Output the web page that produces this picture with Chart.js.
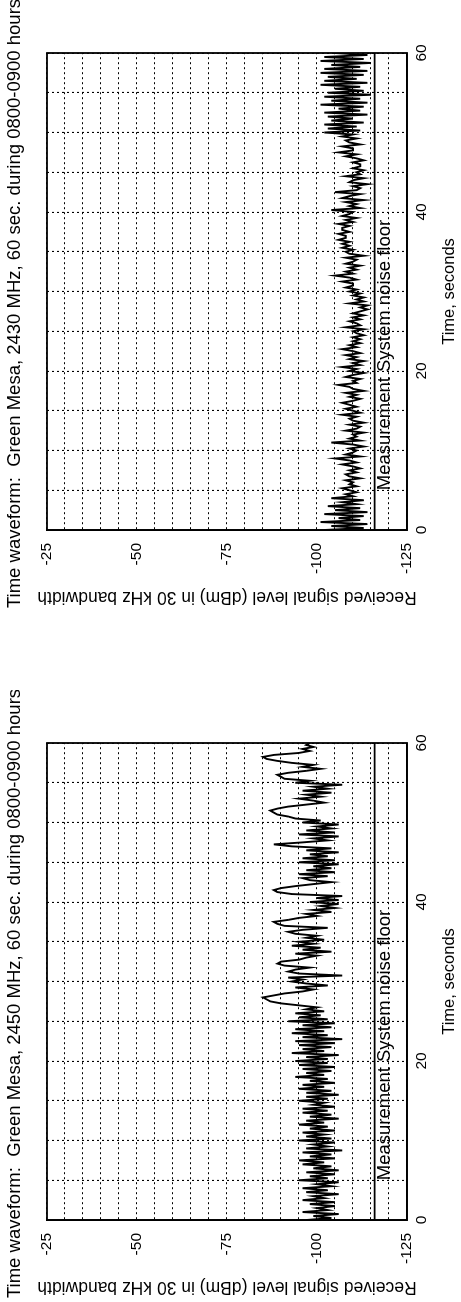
<!DOCTYPE html>
<html>
<head>
<meta charset="utf-8">
<script src="https://cdn.jsdelivr.net/npm/chart.js@4.4.1/dist/chart.umd.min.js"></script>
<style>
  html, body { margin:0; padding:0; background:#fff; overflow:hidden; width:461px; height:1302px; }
  .panel { position:absolute; left:0; width:640px; height:461px; transform-origin:0 0; transform:translate(0,640px) rotate(-90deg); }
  canvas { display:block; }
</style>
</head>
<body>
<div class="panel" style="top:0px"><canvas id="c1" width="640" height="461" style="width:640px;height:461px"></canvas></div>
<div class="panel" style="top:690px"><canvas id="c2" width="640" height="461" style="width:640px;height:461px"></canvas></div>
<script>
// ---- data ----
const sampleStepSec = 0.25;           // one value every 0.25 s, 0..60 s
const timeTickLabels = [0, 20, 40, 60];
const dbmTickLabels = [-25, -50, -75, -100, -125];
const noiseFloorDbm = -116;
const noiseFloorText = 'Measurement System noise floor';
const title2430 = 'Time waveform:  Green Mesa, 2430 MHz, 60 sec. during 0800-0900 hours';
const title2450 = 'Time waveform:  Green Mesa, 2450 MHz, 60 sec. during 0800-0900 hours';
const xAxisTitle = 'Time, seconds';
const yAxisTitle = 'Received signal level (dBm) in 30 kHz bandwidth';

const dbm2430 = [
  -102,-113,-104,-114, -101,-112,-106,-113, -102,-114,-105,-112, -103,-111,-107,-113,
  -104,-110,-108,-111, -109,-107,-111,-109, -110,-108,-112,-109, -108,-111,-109,-112,
  -110,-107,-111,-109, -105,-112,-108,-110, -111,-109,-113,-110, -104,-112,-109,-111,
  -110,-113,-108,-111, -112,-109,-113,-110, -109,-111,-107,-112, -110,-108,-111,-109,
  -107,-110,-112,-109, -111,-108,-113,-110, -109,-106,-111,-110, -112,-108,-110,-113,
  -109,-111,-107,-112, -110,-113,-109,-111, -108,-112,-110,-107, -111,-109,-112,-110,
  -112,-110,-113,-111, -110,-113,-108,-112, -111,-109,-112,-110, -113,-110,-112,-114,
  -112,-114,-109,-113, -111,-113,-110,-112, -109,-111,-108,-110, -110,-107,-111,-109,
  -105,-110,-108,-111, -109,-112,-108,-110, -111,-108,-113,-109, -108,-110,-107,-109,
  -107,-109,-106,-108, -108,-106,-109,-107, -107,-109,-106,-110, -108,-111,-107,-109,
  -110,-104,-112,-109, -111,-108,-113,-107, -109,-112,-105,-111, -112,-110,-114,-109,
  -110,-113,-108,-112, -111,-113,-110,-112, -112,-110,-113,-111, -108,-111,-106,-110,
  -110,-107,-112,-109, -108,-111,-107,-110, -102,-112,-103,-111, -102,-113,-104,-110,
  -103,-114,-102,-112, -106,-113,-101,-114, -104,-112,-102,-115, -103,-113,-105,-112,
  -101,-114,-102,-111, -103,-113,-101,-114, -102,-112,-104,-115, -101,-113,-102,-114,
  -105
];

const dbm2450 = [
  -97,-104,-99,-106, -96,-103,-100,-105, -98,-105,-96,-102, -99,-106,-97,-103,
  -96,-104,-100,-106, -95,-103,-98,-105, -97,-106,-99,-104, -96,-102,-95,-105,
  -98,-104,-96,-107, -97,-103,-99,-105, -95,-104,-97,-102, -96,-105,-98,-103,
  -95,-102,-97,-106, -98,-104,-96,-103, -96,-105,-99,-102, -95,-103,-97,-106,
  -97,-104,-95,-102, -96,-105,-98,-103, -94,-102,-97,-104, -96,-105,-95,-103,
  -94,-103,-97,-106, -93,-102,-96,-104, -95,-105,-94,-107, -96,-103,-93,-102,
  -94,-104,-96,-105, -92,-103,-95,-101, -94,-102,-97,-100, -95,-90,-87,-86,
  -85,-88,-91,-96, -99,-94,-103,-97, -93,-96,-92,-107, -95,-92,-94,-98,
  -91,-89,-90,-95, -97,-100,-94,-104, -96,-101,-93,-99, -95,-102,-97,-100,
  -94,-92,-96,-103, -91,-89,-88,-92, -95,-100,-97,-104, -99,-105,-101,-106,
  -98,-106,-100,-107, -93,-89,-88,-90, -94,-99,-104,-98, -96,-103,-95,-105,
  -97,-104,-99,-106, -95,-105,-96,-103, -98,-106,-97,-104, -93,-88,-96,-103,
  -99,-106,-95,-105, -97,-104,-100,-106, -96,-101,-94,-92, -89,-88,-87,-89,
  -92,-97,-102,-99, -95,-101,-97,-104, -96,-103,-99,-107, -94,-98,-91,-90,
  -89,-92,-97,-101, -96,-99,-93,-89, -86,-85,-88,-95, -98,-96,-99,-97,
  -98
];

// ---- chart construction ----
const FONT = "'Liberation Sans', Arial, Helvetica, sans-serif";

function annotationPlugin(titleText) {
  return {
    id: 'annotations',
    afterDatasetsDraw(chart) {
      const {ctx, scales} = chart;
      ctx.save();
      ctx.fillStyle = '#000';
      ctx.font = '18.5px ' + FONT;
      ctx.textAlign = 'left';
      ctx.textBaseline = 'middle';
      ctx.fillText(noiseFloorText, scales.x.getPixelForValue(5), scales.y.getPixelForValue(noiseFloorDbm) + 10);
      ctx.restore();
    },
    afterDraw(chart) {
      const {ctx, chartArea: a} = chart;
      ctx.save();
      ctx.strokeStyle = '#000';
      ctx.lineWidth = 1.8;
      ctx.setLineDash([]);
      ctx.strokeRect(a.left, a.top, a.right - a.left, a.bottom - a.top);
      // figure title
      ctx.fillStyle = '#000';
      ctx.font = '18.5px ' + FONT;
      ctx.textAlign = 'center';
      ctx.textBaseline = 'middle';
      ctx.fillText(titleText, (a.left + a.right) / 2 - 12, 15);
      ctx.restore();
    }
  };
}

function makeChart(id, titleText, values) {
  const points = values.map((v, i) => ({x: i * sampleStepSec, y: v}));
  const floorPts = [{x: 0, y: noiseFloorDbm}, {x: 60, y: noiseFloorDbm}];
  return new Chart(document.getElementById(id), {
    type: 'line',
    data: {
      datasets: [
        {data: points, borderColor: '#000', borderWidth: 1.9, pointRadius: 0, tension: 0, fill: false},
        {data: floorPts, borderColor: '#000', borderWidth: 1.6, pointRadius: 0, tension: 0, fill: false}
      ]
    },
    options: {
      responsive: false,
      animation: false,
      devicePixelRatio: 1,
      layout: {padding: {left: 0, right: 53, top: 47, bottom: 0}},
      plugins: {
        legend: {display: false},
        tooltip: {enabled: false},
        title: {display: false}
      },
      scales: {
        x: {
          type: 'linear', min: 0, max: 60,
          afterFit(s) { s.height = 54; },
          ticks: {
            stepSize: 5, autoSkip: false, maxRotation: 0, padding: 5, color: '#000',
            font: {family: FONT, size: 15.5},
            callback: v => timeTickLabels.includes(v) ? String(v) : ''
          },
          grid: {color: '#000', lineWidth: 1.1, drawTicks: false},
          border: {display: true, color: '#000', width: 1.8, dash: [2, 3]},
          title: {display: true, text: xAxisTitle, color: '#000',
                  font: {family: FONT, size: 16.5, lineHeight: 1}, padding: {top: 0, bottom: 3}}
        },
        y: {
          type: 'linear', min: -125, max: -25,
          afterFit(s) { s.width = 110; },
          ticks: {
            stepSize: 5, autoSkip: false, padding: 13, color: '#000',
            font: {family: FONT, size: 15.5},
            callback: v => dbmTickLabels.includes(v) ? String(v) : ''
          },
          grid: {color: '#000', lineWidth: 1.1, drawTicks: false},
          border: {display: true, color: '#000', width: 1.8, dash: [2, 3]},
          title: {display: true, text: yAxisTitle, color: '#000',
                  font: {family: FONT, size: 17.5}, padding: {top: 33, bottom: 0}}
        }
      }
    },
    plugins: [annotationPlugin(titleText)]
  });
}

makeChart('c1', title2430, dbm2430);
makeChart('c2', title2450, dbm2450);
</script>
</body>
</html>
